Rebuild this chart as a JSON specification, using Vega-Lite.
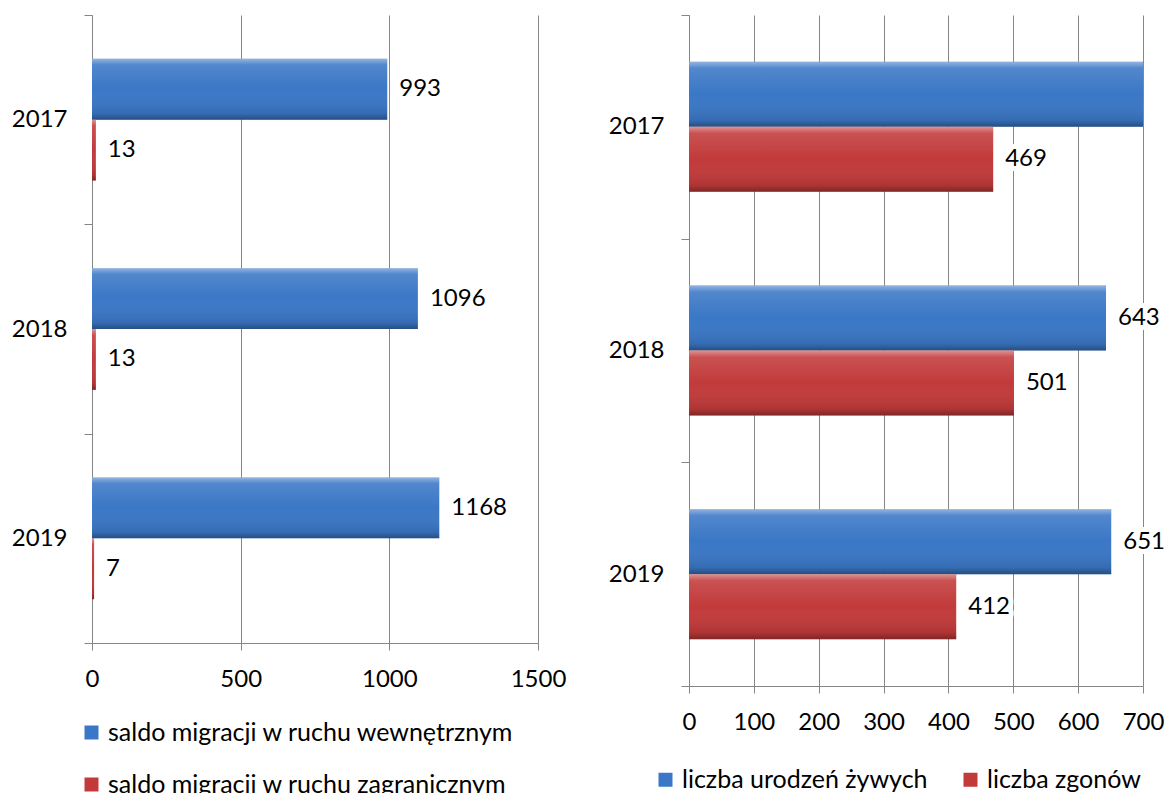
{
  "$schema": "https://vega.github.io/schema/vega-lite/v6.json",
  "padding": {"left": 11, "top": 3, "right": 0, "bottom": 0},
  "background": "white",
  "config": {
    "font": "Lato",
    "view": {"stroke": null},
    "axis": {"labelFont": "Lato", "labelFontSize": 24, "labelColor": "#000000", "domainColor": "#868686", "tickColor": "#868686", "gridColor": "#868686", "title": null},
    "legend": {"labelFont": "Lato", "labelFontSize": 25, "labelColor": "#000000", "labelLimit": 600}
  },
  "hconcat": [
    {
      "width": 446,
      "height": 628,
      "data": {"values": [
        {"year": "2017", "series": "saldo migracji w ruchu wewnętrznym", "value": 993},
        {"year": "2017", "series": "saldo migracji w ruchu zagranicznym", "value": 13},
        {"year": "2018", "series": "saldo migracji w ruchu wewnętrznym", "value": 1096},
        {"year": "2018", "series": "saldo migracji w ruchu zagranicznym", "value": 13},
        {"year": "2019", "series": "saldo migracji w ruchu wewnętrznym", "value": 1168},
        {"year": "2019", "series": "saldo migracji w ruchu zagranicznym", "value": 7}
      ]},
      "encoding": {
        "y": {"field": "year", "type": "nominal", "scale": {"paddingInner": 0, "paddingOuter": 0},
          "axis": {"tickBand": "extent", "tickSize": 8, "labelPadding": 17, "domain": true, "grid": false, "labelAngle": 0}},
        "yOffset": {"field": "series", "type": "nominal", "scale": {"domain": ["saldo migracji w ruchu wewnętrznym", "saldo migracji w ruchu zagranicznym"], "paddingInner": 0, "paddingOuter": 0.72}},
        "x": {"field": "value", "type": "quantitative", "scale": {"domain": [0, 1500]},
          "axis": {"values": [0, 500, 1000, 1500], "format": "d", "labelFlush": false, "grid": true, "tickSize": 7, "labelPadding": 17, "domain": true}}
      },
      "layer": [
        {
          "mark": {"type": "bar", "clip": true},
          "encoding": {"color": {"field": "series", "type": "nominal",
            "scale": {"domain": ["saldo migracji w ruchu wewnętrznym", "saldo migracji w ruchu zagranicznym"], "range": ["#3a77c6", "#c23a3a"]},
            "legend": {"orient": "none", "legendX": -13, "legendY": 705, "direction": "vertical", "title": null, "symbolType": "square", "symbolSize": 196, "symbolStrokeWidth": 0, "rowPadding": 26, "labelOffset": 4}}}
        },
        {
          "mark": {"type": "bar", "clip": true, "fill": {"gradient": "linear", "x1": 0, "y1": 0, "x2": 0, "y2": 1, "stops": [
            {"offset": 0, "color": "rgba(255,255,255,0.45)"},
            {"offset": 0.1, "color": "rgba(255,255,255,0.12)"},
            {"offset": 0.5, "color": "rgba(255,255,255,0)"},
            {"offset": 0.9, "color": "rgba(0,0,0,0.1)"},
            {"offset": 1, "color": "rgba(0,0,0,0.35)"}]}}
        },
        {
          "mark": {"type": "text", "align": "left", "baseline": "middle", "dx": 12, "fontSize": 24, "font": "Lato", "color": "#000000"},
          "encoding": {"text": {"field": "value", "type": "quantitative"}}
        }
      ]
    },
    {
      "width": 454,
      "height": 671,
      "data": {"values": [
        {"year": "2017", "series": "liczba urodzeń żywych", "value": 720},
        {"year": "2017", "series": "liczba zgonów", "value": 469},
        {"year": "2018", "series": "liczba urodzeń żywych", "value": 643},
        {"year": "2018", "series": "liczba zgonów", "value": 501},
        {"year": "2019", "series": "liczba urodzeń żywych", "value": 651},
        {"year": "2019", "series": "liczba zgonów", "value": 412}
      ]},
      "encoding": {
        "y": {"field": "year", "type": "nominal", "scale": {"paddingInner": 0, "paddingOuter": 0},
          "axis": {"tickBand": "extent", "tickSize": 8, "labelPadding": 17, "domain": true, "grid": false, "labelAngle": 0}},
        "yOffset": {"field": "series", "type": "nominal", "scale": {"domain": ["liczba urodzeń żywych", "liczba zgonów"], "paddingInner": 0, "paddingOuter": 0.72}},
        "x": {"field": "value", "type": "quantitative", "scale": {"domain": [0, 700], "nice": false},
          "axis": {"values": [0, 100, 200, 300, 400, 500, 600, 700], "format": "d", "labelFlush": false, "grid": true, "tickSize": 7, "labelPadding": 17, "domain": true}}
      },
      "layer": [
        {
          "mark": {"type": "bar", "clip": true},
          "encoding": {"color": {"field": "series", "type": "nominal",
            "scale": {"domain": ["liczba urodzeń żywych", "liczba zgonów"], "range": ["#3a77c6", "#c23a3a"]},
            "legend": {"orient": "none", "legendX": -36, "legendY": 752, "direction": "horizontal", "columns": 2, "columnPadding": 30, "title": null, "symbolType": "square", "symbolSize": 196, "symbolStrokeWidth": 0, "labelOffset": 4}}}
        },
        {
          "mark": {"type": "bar", "clip": true, "fill": {"gradient": "linear", "x1": 0, "y1": 0, "x2": 0, "y2": 1, "stops": [
            {"offset": 0, "color": "rgba(255,255,255,0.45)"},
            {"offset": 0.1, "color": "rgba(255,255,255,0.12)"},
            {"offset": 0.5, "color": "rgba(255,255,255,0)"},
            {"offset": 0.9, "color": "rgba(0,0,0,0.1)"},
            {"offset": 1, "color": "rgba(0,0,0,0.35)"}]}}
        },
        {
          "transform": [{"filter": "datum.value <= 700"}],
          "mark": {"type": "text", "align": "left", "baseline": "middle", "dx": 12, "fontSize": 24, "font": "Lato", "stroke": "white", "strokeWidth": 10, "strokeJoin": "round", "fill": "white"},
          "encoding": {"text": {"field": "value", "type": "quantitative"}}
        },
        {
          "transform": [{"filter": "datum.value <= 700"}],
          "mark": {"type": "text", "align": "left", "baseline": "middle", "dx": 12, "fontSize": 24, "font": "Lato", "color": "#000000"},
          "encoding": {"text": {"field": "value", "type": "quantitative"}}
        }
      ]
    }
  ],
  "resolve": {"scale": {"color": "independent", "x": "independent", "y": "independent", "yOffset": "independent"}},
  "bounds": "flush",
  "spacing": 151
}
